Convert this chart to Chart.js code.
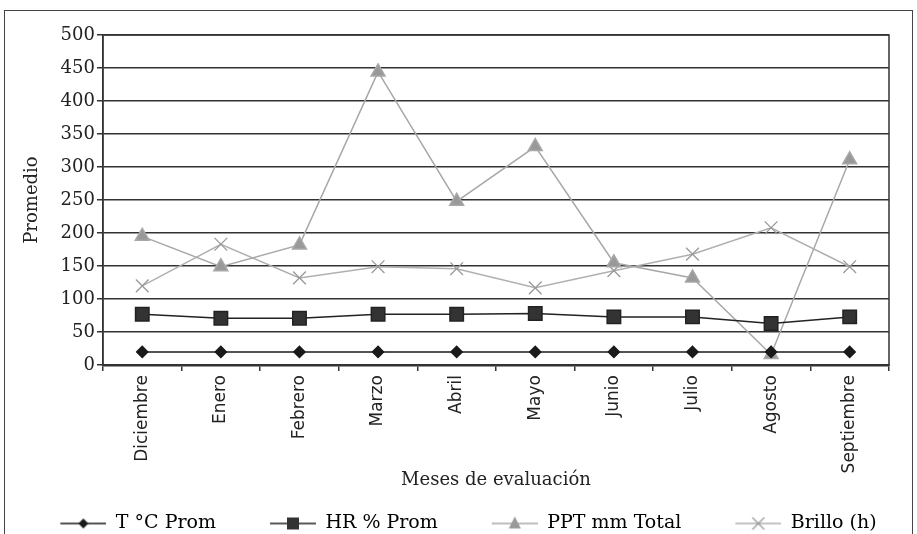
<!DOCTYPE html>
<html>
<head>
<meta charset="utf-8">
<script src="https://cdn.jsdelivr.net/npm/chart.js@4/dist/chart.umd.min.js"></script>
<style>
  html, body { margin: 0; padding: 0; background: #fff; overflow: hidden; }
  #wrap { position: relative; width: 917px; height: 534px; }
  #frame { position: absolute; left: 4px; top: 10px; width: 909px; height: 600px; border: 1.5px solid #444; box-sizing: border-box; }
  #wrap canvas { position: absolute; left: 0; top: 0; }
</style>
</head>
<body>
<div id="wrap">
  <div id="frame"></div>
  <canvas id="chart" width="917" height="534"></canvas>
</div>
<script>
// Meses de evaluación
const months = ['Diciembre', 'Enero', 'Febrero', 'Marzo', 'Abril', 'Mayo', 'Junio', 'Julio', 'Agosto', 'Septiembre'];

// Series
const tempProm = [20, 20, 20, 20, 20, 20, 20, 20, 20, 20];
const hrProm = [77, 71, 71, 77, 77, 78, 73, 73, 63, 73];
const pptTotal = [195, 149, 182, 444, 248, 331, 155, 132, 16, 311];
const brillo = [120, 183, 132, 149, 146, 117, 143, 168, 208, 149];

const yMin = 0;
const yMax = 500;
const yStep = 50;

// Legend glyph: line with the marker in the middle, drawn at the right of a
// wider canvas so the blank part spreads the items across the frame
const GLYPH_GAP = 48;
const GLYPH_W = 46 + GLYPH_GAP;

const legendGlyph = (lineColor, color, draw) => {
    const c = document.createElement('canvas');
    c.width = GLYPH_W;
    c.height = 16;
    const g = c.getContext('2d');
    g.strokeStyle = lineColor;
    g.lineWidth = 1.5;
    g.beginPath();
    g.moveTo(GLYPH_GAP, 8);
    g.lineTo(GLYPH_W, 8);
    g.stroke();
    g.fillStyle = color;
    g.strokeStyle = color;
    draw(g, GLYPH_GAP + 23, 8);
    return c;
};

const glyphs = [
    legendGlyph('#1a1a1a', '#1a1a1a', (g, x, y) => {
        g.beginPath();
        g.moveTo(x, y - 5); g.lineTo(x + 5, y); g.lineTo(x, y + 5); g.lineTo(x - 5, y);
        g.closePath(); g.fill();
    }),
    legendGlyph('#222', '#333', (g, x, y) => {
        g.fillRect(x - 6, y - 6, 12, 12);
    }),
    legendGlyph('#a8a8a8', '#999', (g, x, y) => {
        g.beginPath();
        g.moveTo(x, y - 7); g.lineTo(x + 6, y + 5); g.lineTo(x - 6, y + 5);
        g.closePath(); g.fill();
    }),
    legendGlyph('#b0b0b0', '#999', (g, x, y) => {
        g.lineWidth = 1.3;
        g.beginPath();
        g.moveTo(x - 6, y - 6); g.lineTo(x + 6, y + 6);
        g.moveTo(x + 6, y - 6); g.lineTo(x - 6, y + 6);
        g.stroke();
    })
];

// Frame round the plot area
const plotFrame = {
    id: 'plotFrame',
    afterDraw(chart) {
        const { ctx, chartArea: a } = chart;
        ctx.save();
        ctx.strokeStyle = '#333';
        ctx.lineWidth = 1.5;
        ctx.strokeRect(a.left, a.top, a.right - a.left, a.bottom - a.top);
        ctx.restore();
    }
};

const serif = "'DejaVu Serif', serif";

new Chart(document.getElementById('chart'), {
    type: 'line',
    data: {
        labels: months,
        datasets: [
            {
                label: 'T °C Prom',
                data: tempProm,
                borderColor: '#1a1a1a',
                backgroundColor: '#1a1a1a',
                borderWidth: 1.5,
                pointStyle: 'rectRot',
                pointRadius: 5.5
            },
            {
                label: 'HR % Prom',
                data: hrProm,
                borderColor: '#222',
                backgroundColor: '#333',
                borderWidth: 1.5,
                pointStyle: 'rect',
                pointRadius: 9.5
            },
            {
                label: 'PPT mm Total',
                data: pptTotal,
                borderColor: '#a8a8a8',
                backgroundColor: '#999',
                borderWidth: 1.5,
                pointStyle: 'triangle',
                pointRadius: 8
            },
            {
                label: 'Brillo (h)',
                data: brillo,
                borderColor: '#b0b0b0',
                backgroundColor: '#999',
                borderWidth: 1.5,
                pointStyle: 'crossRot',
                pointRadius: 9,
                pointBorderWidth: 1.3,
                pointBorderColor: '#999'
            }
        ]
    },
    options: {
        responsive: false,
        animation: false,
        events: [],
        layout: { padding: { left: 0, right: 28, top: 35, bottom: -9 } },
        elements: { line: { tension: 0 } },
        plugins: {
            tooltip: { enabled: false },
            legend: {
                position: 'bottom',
                align: 'center',
                labels: {
                    color: '#222',
                    font: { family: serif, size: 19 },
                    usePointStyle: true,
                    pointStyleWidth: GLYPH_W,
                    padding: 6,
                    generateLabels: (chart) => chart.data.datasets.map((ds, i) => ({
                        text: ds.label,
                        pointStyle: glyphs[i],
                        fillStyle: ds.backgroundColor,
                        strokeStyle: ds.borderColor,
                        lineWidth: 0,
                        datasetIndex: i
                    }))
                }
            }
        },
        scales: {
            x: {
                offset: true,
                grid: {
                    offset: true,
                    drawOnChartArea: false,
                    drawTicks: true,
                    tickLength: 6,
                    color: '#333',
                    lineWidth: 1.5
                },
                border: { color: '#333', width: 2.5 },
                ticks: {
                    color: '#222',
                    font: { family: "'DejaVu Sans', sans-serif", size: 17 },
                    minRotation: 90,
                    maxRotation: 90,
                    autoSkip: false,
                    padding: 4
                },
                title: {
                    display: true,
                    text: 'Meses de evaluación',
                    color: '#222',
                    font: { family: serif, size: 18 },
                    padding: { top: -8, bottom: 17 }
                }
            },
            y: {
                min: yMin,
                max: yMax,
                ticks: {
                    stepSize: yStep,
                    autoSkip: false,
                    color: '#222',
                    font: { family: serif, size: 18 },
                    padding: 2
                },
                grid: {
                    color: '#333',
                    lineWidth: 1.5,
                    drawTicks: true,
                    tickLength: 6
                },
                border: { color: '#333', width: 1.5 },
                title: {
                    display: true,
                    text: 'Promedio',
                    color: '#222',
                    font: { family: serif, size: 18 },
                    padding: { top: 22, bottom: 15 }
                }
            }
        }
    },
    plugins: [plotFrame]
});
</script>
</body>
</html>
